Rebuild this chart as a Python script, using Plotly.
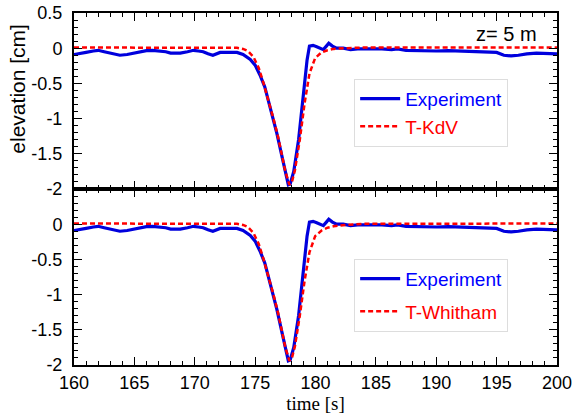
import plotly.graph_objects as go
from plotly.subplots import make_subplots

# Experiment (measured elevation, cm) vs time (s)
exp_t = [160.0, 160.5, 161.0, 161.6, 162.0, 162.5, 163.0, 163.8, 164.4, 164.9, 165.5, 166.0,
         166.5, 167.1, 167.6, 168.0, 168.8, 169.4, 169.9, 170.3, 170.7, 171.1, 171.5, 172.1,
         172.8, 173.5, 174.0, 174.6, 175.0, 175.4, 175.8, 176.1, 176.5, 176.8, 177.2, 177.5,
         177.75, 177.9, 178.2, 178.6, 179.0, 179.3, 179.5, 179.8, 180.1, 180.4, 180.65, 180.9,
         181.1, 181.4, 181.75, 182.3, 182.9, 183.5, 184.0, 184.8, 185.5, 186.3, 186.8, 187.5,
         188.2, 189.0, 190.0, 191.0, 192.0, 193.0, 194.0, 195.0, 195.6, 196.2, 196.8, 197.5,
         198.3, 199.0, 200.0]
exp_v = [-0.09, -0.07, -0.06, -0.04, -0.03, -0.05, -0.07, -0.10, -0.09, -0.07, -0.05, -0.035,
         -0.03, -0.035, -0.05, -0.07, -0.07, -0.05, -0.03, -0.04, -0.05, -0.08, -0.10, -0.06,
         -0.06, -0.06, -0.09, -0.16, -0.24, -0.38, -0.55, -0.74, -1.02, -1.21, -1.52, -1.75,
         -1.94, -1.93, -1.75, -1.30, -0.64, -0.17, 0.03, 0.04, 0.02, 0.0, -0.02, 0.03,
         0.07, 0.03, 0.0, 0.0, -0.02, -0.01, -0.01, 0.0, -0.01, -0.02, -0.01, -0.03,
         -0.035, -0.03, -0.04, -0.035, -0.04, -0.045, -0.05, -0.06, -0.10, -0.11, -0.10, -0.08,
         -0.07, -0.07, -0.08]

# T-KdV model
kdv_t = [160.0, 172.0, 173.5, 174.0, 174.4, 174.85, 175.3, 175.7, 176.1, 176.5, 176.9, 177.2,
         177.5, 177.84, 178.05, 178.3, 178.7, 179.1, 179.5, 179.97, 180.5, 181.0, 181.5, 182.5,
         184.0, 200.0]
kdv_v = [0.01, 0.01, 0.005, -0.01, -0.04, -0.12, -0.28, -0.50, -0.74, -0.99, -1.26, -1.50,
         -1.75, -1.94, -1.90, -1.73, -1.30, -0.78, -0.36, -0.14, -0.06, -0.03, -0.01, 0.0,
         0.01, 0.01]

# T-Whitham model
wh_t = [160.0, 172.0, 173.5, 174.0, 174.4, 174.85, 175.3, 175.7, 176.1, 176.5, 176.9, 177.2,
        177.5, 177.84, 178.05, 178.3, 178.7, 179.1, 179.5, 179.97, 180.5, 181.0, 181.5, 182.5,
        184.0, 200.0]
wh_v = [0.01, 0.01, 0.005, -0.01, -0.04, -0.12, -0.28, -0.50, -0.74, -0.99, -1.26, -1.50,
        -1.75, -1.94, -1.90, -1.73, -1.30, -0.80, -0.40, -0.17, -0.09, -0.05, -0.03, -0.01,
        0.005, 0.01]

BLUE = "#0000dd"
RED = "#ff0000"

fig = make_subplots(rows=2, cols=1, shared_xaxes=True, vertical_spacing=0)

fig.add_trace(go.Scatter(x=exp_t, y=exp_v, mode="lines", line=dict(color=BLUE, width=3.2),
                         name="<span style='color:#0000ff'>Experiment</span>", legend="legend"),
              row=1, col=1)
fig.add_trace(go.Scatter(x=kdv_t, y=kdv_v, mode="lines", line=dict(color=RED, width=2.5, dash="5px,3px"),
                         name="<span style='color:#ff0000'>T-KdV</span>", legend="legend"),
              row=1, col=1)
fig.add_trace(go.Scatter(x=exp_t, y=exp_v, mode="lines", line=dict(color=BLUE, width=3.2),
                         name="<span style='color:#0000ff'>Experiment</span>", legend="legend2",
                         legendgroup="e2"),
              row=2, col=1)
fig.add_trace(go.Scatter(x=wh_t, y=wh_v, mode="lines", line=dict(color=RED, width=2.5, dash="5px,3px"),
                         name="<span style='color:#ff0000'>T-Whitham</span>", legend="legend2",
                         legendgroup="w2"),
              row=2, col=1)

tick_font = dict(family="Liberation Sans, Arial, sans-serif", size=18, color="black")
axis_common = dict(showline=True, linecolor="black", linewidth=2, mirror="ticks",
                   ticks="inside", ticklen=8, tickwidth=1, tickcolor="black",
                   showgrid=False, zeroline=False, tickfont=tick_font, automargin=False)

fig.update_xaxes(range=[160, 200], tickmode="linear", tick0=160, dtick=5,
                 minor=dict(tickmode="linear", tick0=160, dtick=1, ticks="inside", ticklen=4,
                            tickcolor="black", tickwidth=1),
                 **axis_common)
fig.update_xaxes(showticklabels=False, row=1, col=1)
fig.update_xaxes(title=dict(text="time [s]", font=dict(family="Liberation Serif, Times New Roman, serif",
                                                        size=19, color="black"), standoff=2),
                 row=2, col=1)

fig.update_yaxes(range=[-2, 0.5], tickmode="array",
                 minor=dict(tickmode="linear", tick0=0, dtick=0.1, ticks="inside", ticklen=4,
                            tickcolor="black", tickwidth=1),
                 ticklabelstandoff=6, **axis_common)
fig.update_yaxes(tickvals=[-2, -1.5, -1, -0.5, 0, 0.5], ticktext=["-2", "-1.5", "-1", "-0.5", "0", "0.5"],
                 row=1, col=1)
fig.update_yaxes(tickvals=[-2, -1.5, -1, -0.5, 0], ticktext=["-2", "-1.5", "-1", "-0.5", "0"],
                 row=2, col=1)

legend_common = dict(bgcolor="white", bordercolor="#dddddd", borderwidth=1,
                     font=dict(family="Liberation Sans, Arial, sans-serif", size=19),
                     xanchor="left", yanchor="top", itemwidth=40)
fig.update_layout(
    legend=dict(x=0.58, y=0.813, tracegroupgap=0, **legend_common),
    legend2=dict(x=0.58, y=0.302, tracegroupgap=5, **legend_common),
    annotations=[
        dict(text="z= 5 m", xref="paper", yref="paper", x=0.962, y=0.94,
             xanchor="right", yanchor="middle", showarrow=False,
             font=dict(family="Liberation Sans, Arial, sans-serif", size=20, color="black")),
        dict(text="elevation [cm]", xref="paper", yref="paper", x=-0.116, y=0.785,
             xanchor="center", yanchor="middle", textangle=-90, showarrow=False,
             font=dict(family="Liberation Sans, Arial, sans-serif", size=21, color="black")),
    ],
    width=576, height=417,
    margin=dict(l=74, r=19, t=13, b=52, autoexpand=False),
    plot_bgcolor="white", paper_bgcolor="white",
)

fig.write_html("out.html")
